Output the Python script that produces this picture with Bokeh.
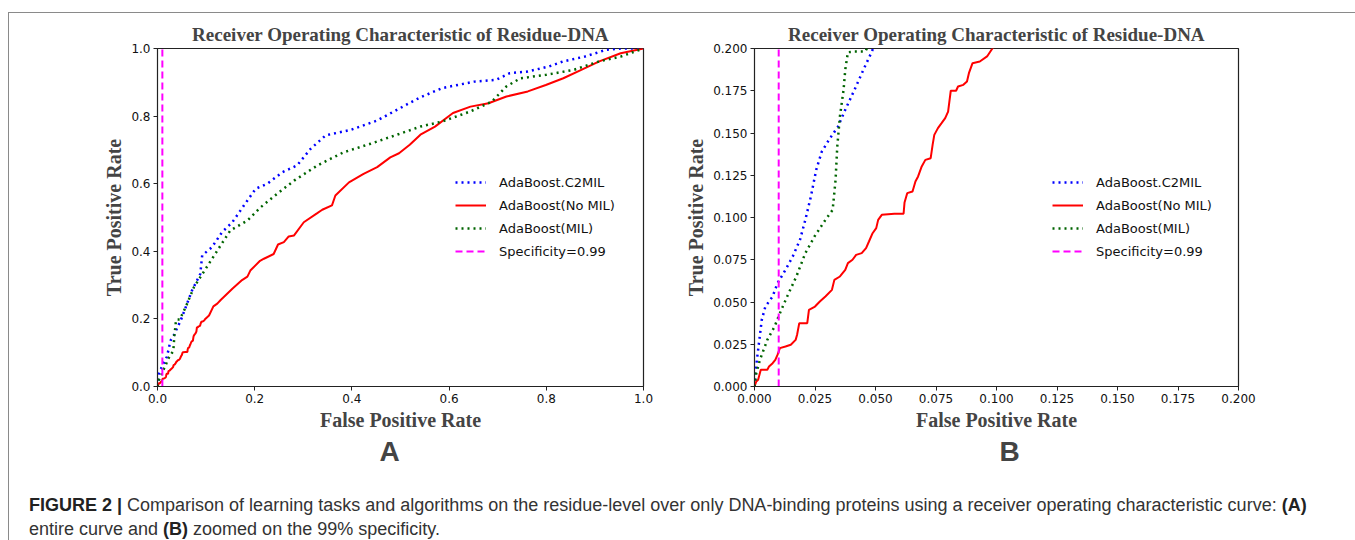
from bokeh.plotting import figure
from bokeh.models import Range1d, FixedTicker, PrintfTickFormatter, Legend, LegendItem, Title, Div
from bokeh.layouts import row, column
from bokeh.embed import file_html
from bokeh.resources import INLINE

# ---------------- data ----------------
fpr_c2mil = [0.0, 0.0005, 0.0015, 0.003, 0.0045, 0.0075, 0.0095, 0.0128, 0.0158, 0.0188, 0.021,
             0.0233, 0.0255, 0.0278, 0.0308, 0.0345, 0.0375, 0.0413, 0.045, 0.0485,
             0.071, 0.088, 0.092, 0.112, 0.133, 0.154, 0.178, 0.202, 0.226, 0.257, 0.287,
             0.315, 0.346, 0.397, 0.452, 0.497, 0.54, 0.586, 0.652, 0.696, 0.725, 0.762,
             0.806, 0.835, 0.879, 0.923, 0.953, 1.0]
tpr_c2mil = [0.0, 0.0099, 0.0217, 0.0394, 0.0473, 0.0533, 0.0611, 0.069, 0.0769, 0.0868, 0.0986,
             0.1124, 0.1282, 0.139, 0.146, 0.1538, 0.1637, 0.1755, 0.1874, 0.1982,
             0.284, 0.333, 0.388, 0.412, 0.457, 0.486, 0.536, 0.585, 0.600, 0.634, 0.654,
             0.703, 0.743, 0.759, 0.787, 0.822, 0.855, 0.883, 0.902, 0.907, 0.927, 0.932,
             0.947, 0.962, 0.976, 0.996, 1.0, 1.0]

fpr_nomil = [0.0, 0.00075, 0.0015, 0.0026, 0.0053, 0.006, 0.0075, 0.0086, 0.0095, 0.0105, 0.0128,
             0.015, 0.017, 0.0176, 0.0185, 0.0218, 0.0225, 0.025, 0.027, 0.0293, 0.032, 0.033,
             0.0353, 0.0375, 0.0386, 0.0405, 0.042, 0.0443, 0.0461, 0.0473, 0.0488, 0.0503,
             0.0511, 0.0526, 0.0578, 0.0616, 0.062, 0.0631, 0.0653, 0.0665, 0.0676, 0.0691,
             0.0706, 0.0728, 0.0736, 0.0743, 0.0758, 0.0773, 0.0788, 0.080, 0.0811, 0.0833,
             0.0841, 0.0863, 0.0878, 0.0886, 0.0901, 0.0931, 0.0961, 0.0983,
             0.106, 0.115, 0.123, 0.13, 0.154, 0.174, 0.185, 0.191, 0.211, 0.219, 0.239, 0.248,
             0.26, 0.27, 0.281, 0.301, 0.328, 0.339, 0.359, 0.366, 0.394, 0.424, 0.452, 0.479,
             0.497, 0.519, 0.541, 0.571, 0.608, 0.644, 0.681, 0.718, 0.762, 0.799, 0.835,
             0.872, 0.909, 0.953, 1.0]
tpr_nomil = [0.0, 0.003, 0.004, 0.0099, 0.0099, 0.0118, 0.0138, 0.0158, 0.0187, 0.0227, 0.0237,
             0.0247, 0.0276, 0.0306, 0.0375, 0.0375, 0.0454, 0.0473, 0.0503, 0.0533, 0.0572, 0.0631,
             0.0651, 0.069, 0.073, 0.075, 0.0779, 0.0789, 0.0819, 0.0858, 0.0907, 0.0937,
             0.0986, 0.1016, 0.1022, 0.1022, 0.1089, 0.1144, 0.1154, 0.1213, 0.1243, 0.1302,
             0.1341, 0.1351, 0.143, 0.1489, 0.1529, 0.1558, 0.1588, 0.1627, 0.175, 0.175,
             0.1775, 0.1785, 0.1805, 0.1854, 0.1913, 0.1923, 0.1953, 0.2,
             0.21, 0.237, 0.245, 0.256, 0.289, 0.315, 0.325, 0.343, 0.372, 0.378, 0.392, 0.42,
             0.427, 0.444, 0.447, 0.486, 0.512, 0.523, 0.536, 0.565, 0.604, 0.629, 0.649, 0.678,
             0.69, 0.715, 0.745, 0.769, 0.809, 0.828, 0.838, 0.858, 0.873, 0.892, 0.912,
             0.937, 0.962, 0.986, 1.0]

fpr_mil = [0.0, 0.00075, 0.00225, 0.0053, 0.0083, 0.0105, 0.0135, 0.0173, 0.021, 0.0248, 0.0293,
           0.0323, 0.0335, 0.0342, 0.0353, 0.0368, 0.0375, 0.0386, 0.0413, 0.0458,
           0.058, 0.075, 0.099, 0.123, 0.15, 0.185, 0.212, 0.246, 0.281, 0.329, 0.383, 0.438,
           0.497, 0.541, 0.586, 0.644, 0.688, 0.718, 0.747, 0.799, 0.857, 0.909, 0.953, 1.0]
tpr_mil = [0.0, 0.0079, 0.0158, 0.0276, 0.0355, 0.0434, 0.0533, 0.0651, 0.0789, 0.0888, 0.0986,
           0.1045, 0.1223, 0.142, 0.1598, 0.1755, 0.1874, 0.1978, 0.1982, 0.1982,
           0.235, 0.294, 0.348, 0.402, 0.462, 0.491, 0.53, 0.57, 0.609, 0.654, 0.693, 0.718,
           0.747, 0.769, 0.784, 0.814, 0.843, 0.888, 0.912, 0.922, 0.937, 0.962, 0.976, 1.0]

spec_fpr = [0.01, 0.01]
spec_tpr = [0.0, 1.0]

series_labels = ["AdaBoost.C2MIL", "AdaBoost(No MIL)", "AdaBoost(MIL)", "Specificity=0.99"]
title_text = "Receiver Operating Characteristic of Residue-DNA"
ticks_a = [0.0, 0.2, 0.4, 0.6, 0.8, 1.0]
ticks_b = [0.0, 0.025, 0.05, 0.075, 0.1, 0.125, 0.15, 0.175, 0.2]

SERIF = "Liberation Serif"
SANS = "DejaVu Sans"


def make_panel(lim, ticks, fmt, width, height, bl, br, bt, bb, letter, letter_off):
    p = figure(width=width, height=height, x_range=Range1d(0, lim), y_range=Range1d(0, lim),
               output_backend="svg", toolbar_location=None,
               min_border_left=bl, min_border_right=br, min_border_top=bt, min_border_bottom=bb)
    p.xgrid.visible = False
    p.ygrid.visible = False
    p.outline_line_color = "#222222"
    p.outline_line_width = 1.2
    p.title.text = title_text
    p.title.align = "center"
    p.title.text_font = SERIF
    p.title.text_font_style = "bold"
    p.title.text_font_size = "19px"
    p.title.standoff = 8
    for ax in (p.xaxis[0], p.yaxis[0]):
        ax.ticker = FixedTicker(ticks=ticks)
        ax.formatter = PrintfTickFormatter(format=fmt)
        ax.minor_tick_line_color = None
        ax.major_tick_in = 0
        ax.major_tick_out = 4
        ax.major_tick_line_color = "#222222"
        ax.axis_line_color = "#222222"
        ax.major_label_text_font = SANS
        ax.major_label_text_font_size = "12px"
        ax.major_label_text_color = "#111111"
        ax.major_label_standoff = 3
        ax.axis_label_text_font = SERIF
        ax.axis_label_text_font_style = "bold"
        ax.axis_label_text_font_size = "20px"
        ax.axis_label_standoff = 3
    p.xaxis.axis_label = "False Positive Rate"
    p.yaxis.axis_label = "True Positive Rate"

    r1 = p.line(fpr_c2mil, tpr_c2mil, line_color="blue", line_width=2.5, line_dash="2 4")
    r2 = p.line(fpr_nomil, tpr_nomil, line_color="red", line_width=2)
    r3 = p.line(fpr_mil, tpr_mil, line_color="darkgreen", line_width=2.5, line_dash="2 4")
    r4 = p.line(spec_fpr, spec_tpr, line_color="magenta", line_width=2, line_dash="7 4")

    leg = Legend(items=[LegendItem(label=series_labels[0], renderers=[r1]),
                        LegendItem(label=series_labels[1], renderers=[r2]),
                        LegendItem(label=series_labels[2], renderers=[r3]),
                        LegendItem(label=series_labels[3], renderers=[r4])],
                 location=(298, 125), border_line_color=None, background_fill_alpha=0,
                 padding=0, spacing=3, glyph_width=31, glyph_height=20, label_height=20,
                 label_standoff=13, label_text_font=SANS, label_text_font_size="13px",
                 label_text_color="#111111", margin=0)
    p.add_layout(leg)

    p.add_layout(Title(text=letter, align="left", text_font="Liberation Sans",
                       text_font_style="bold", text_font_size="28px", offset=letter_off,
                       standoff=0), "below")
    return p


pA = make_panel(1.0, ticks_a, "%.1f", 654, 457, 148, 20, 35, 84, "A", 222)
pB = make_panel(0.2, ticks_b, "%.3f", 689, 457, 91, 114, 35, 84, "B", 245)

caption_html = (
    '<div style="font-family:\'Liberation Sans\',Arial,sans-serif;font-size:18px;line-height:24px;'
    'color:#333333;white-space:nowrap;padding-left:15px;padding-top:18px;">'
    '<b style="color:#222">FIGURE 2 |</b> Comparison of learning tasks and algorithms on the residue-level '
    'over only DNA-binding proteins using a receiver operating characteristic curve: <b style="color:#222">(A)</b><br>'
    'entire curve and <b style="color:#222">(B)</b> zoomed on the 99% specificity.</div>')
caption = Div(text=caption_html, width=1343, height=70, styles={"overflow": "visible"})

layout = column(row(pA, pB), caption,
                styles={"margin-top": "12px", "margin-left": "8px",
                        "border-top": "1px solid #8a8a8a",
                        "border-left": "1px solid #8a8a8a", "border-right": "1px solid #8a8a8a"})

open("out.html", "w").write(file_html(layout, INLINE))
